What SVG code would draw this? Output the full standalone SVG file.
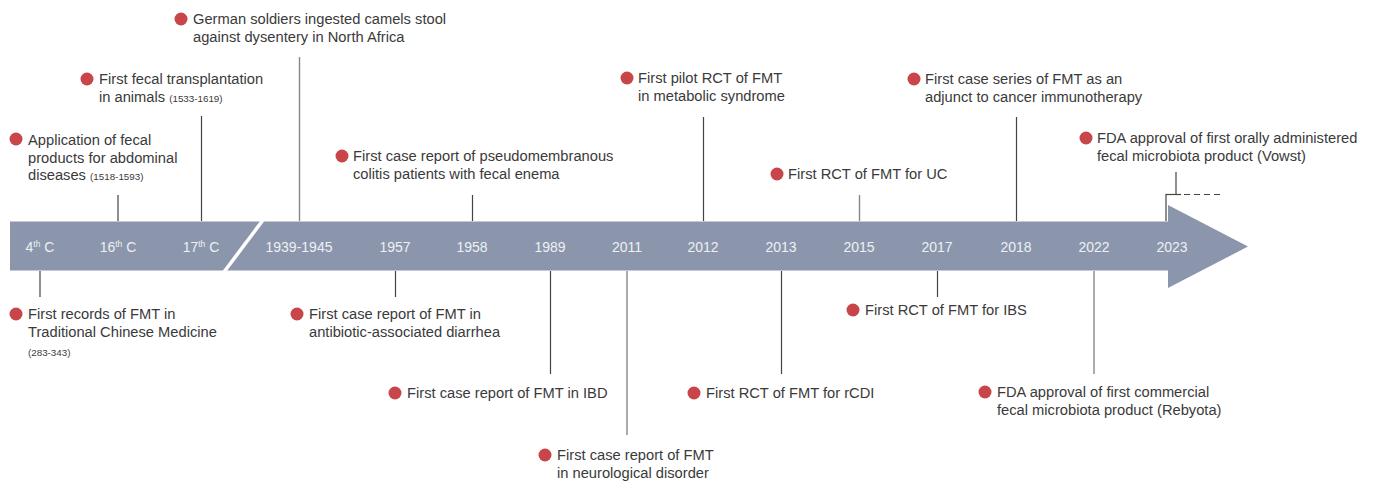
<svg xmlns="http://www.w3.org/2000/svg" width="1377" height="483" viewBox="0 0 1377 483">
<style>
.t{font-family:"Liberation Sans",Arial,sans-serif;font-size:14.7px;fill:#3a3a3a}
.s{font-size:9.8px}
.y{font-family:"Liberation Sans",Arial,sans-serif;font-size:14px;fill:#eef0f4;text-anchor:middle}
.sup{font-size:8.5px}
.dot{fill:#c8454a}
.ln{stroke:#444;stroke-width:1.2;fill:none}
.lg{stroke:#888;stroke-width:1.4;fill:none}
</style>
<rect width="1377" height="483" fill="#fff"/>
<g id="timeline">
<path d="M10,221.5 H1168 V205 L1248,246.5 L1168,288 V270.5 H10 Z" fill="#8b96ad"/>
<line x1="224" y1="272" x2="263" y2="220" stroke="#fff" stroke-width="3.5"/>
<text class="y" x="40" y="252">4<tspan class="sup" dy="-5">th</tspan><tspan dy="5"> C</tspan></text>
<text class="y" x="118" y="252">16<tspan class="sup" dy="-5">th</tspan><tspan dy="5"> C</tspan></text>
<text class="y" x="201" y="252">17<tspan class="sup" dy="-5">th</tspan><tspan dy="5"> C</tspan></text>
<text class="y" x="299" y="252">1939-1945</text>
<text class="y" x="395" y="252">1957</text>
<text class="y" x="472" y="252">1958</text>
<text class="y" x="550" y="252">1989</text>
<text class="y" x="627" y="252">2011</text>
<text class="y" x="703" y="252">2012</text>
<text class="y" x="781" y="252">2013</text>
<text class="y" x="859" y="252">2015</text>
<text class="y" x="937" y="252">2017</text>
<text class="y" x="1016" y="252">2018</text>
<text class="y" x="1094" y="252">2022</text>
<text class="y" x="1172" y="252">2023</text>
</g>
<g id="connectors">
<line class="ln" x1="118" y1="195" x2="118" y2="221"/>
<line class="ln" x1="201.5" y1="116" x2="201.5" y2="221"/>
<line class="lg" x1="299.5" y1="57" x2="299.5" y2="221"/>
<line class="ln" x1="472.5" y1="195" x2="472.5" y2="221"/>
<line class="ln" x1="703.5" y1="117" x2="703.5" y2="221"/>
<line class="lg" x1="859.5" y1="195" x2="859.5" y2="221"/>
<line class="ln" x1="1016.5" y1="117" x2="1016.5" y2="221"/>
<line class="ln" x1="1176" y1="172" x2="1176" y2="194.5"/>
<line class="ln" x1="1166" y1="194.5" x2="1166" y2="221"/>
<line class="ln" x1="1165.5" y1="194.5" x2="1181" y2="194.5"/>
<line class="ln" x1="1184" y1="194.5" x2="1222" y2="194.5" stroke-dasharray="6,4"/>
<line class="ln" x1="40" y1="271" x2="40" y2="297"/>
<line class="ln" x1="395.5" y1="271" x2="395.5" y2="297"/>
<line class="ln" x1="550.5" y1="271" x2="550.5" y2="374"/>
<line class="lg" x1="627" y1="271" x2="627" y2="435"/>
<line class="ln" x1="781.5" y1="271" x2="781.5" y2="374"/>
<line class="ln" x1="937.5" y1="271" x2="937.5" y2="297"/>
<line class="lg" x1="1094" y1="271" x2="1094" y2="374"/>
</g>
<g id="e-german">
<circle class="dot" cx="181" cy="19" r="6.5"/>
<text class="t" x="193" y="24">German soldiers ingested camels stool</text>
<text class="t" x="193" y="42">against dysentery in North Africa</text>
</g>
<g id="e-animals">
<circle class="dot" cx="87" cy="79" r="6.5"/>
<text class="t" x="99" y="84">First fecal transplantation</text>
<text class="t" x="99" y="102">in animals <tspan class="s">(1533-1619)</tspan></text>
</g>
<g id="e-application">
<circle class="dot" cx="16" cy="139" r="6.5"/>
<text class="t" x="28" y="145">Application of fecal</text>
<text class="t" x="28" y="163">products for abdominal</text>
<text class="t" x="28" y="180">diseases <tspan class="s">(1518-1593)</tspan></text>
</g>
<g id="e-pseudo">
<circle class="dot" cx="342" cy="156" r="6.5"/>
<text class="t" x="353" y="161">First case report of pseudomembranous</text>
<text class="t" x="353" y="179">colitis patients with fecal enema</text>
</g>
<g id="e-metabolic">
<circle class="dot" cx="627" cy="78" r="6.5"/>
<text class="t" x="638" y="83">First pilot RCT of FMT</text>
<text class="t" x="638" y="101">in metabolic syndrome</text>
</g>
<g id="e-uc">
<circle class="dot" cx="777" cy="174" r="6.5"/>
<text class="t" x="788" y="179">First RCT of FMT for UC</text>
</g>
<g id="e-cancer">
<circle class="dot" cx="914" cy="79" r="6.5"/>
<text class="t" x="925" y="84">First case series of FMT as an</text>
<text class="t" x="925" y="102">adjunct to cancer immunotherapy</text>
</g>
<g id="e-vowst">
<circle class="dot" cx="1086" cy="138" r="6.5"/>
<text class="t" x="1097" y="143">FDA approval of first orally administered</text>
<text class="t" x="1097" y="161">fecal microbiota product (Vowst)</text>
</g>
<g id="e-tcm">
<circle class="dot" cx="16" cy="314" r="6.5"/>
<text class="t" x="28" y="319">First records of FMT in</text>
<text class="t" x="28" y="337">Traditional Chinese Medicine</text>
<text class="t s" x="28" y="356">(283-343)</text>
</g>
<g id="e-antibiotic">
<circle class="dot" cx="297" cy="314" r="6.5"/>
<text class="t" x="309" y="319">First case report of FMT in</text>
<text class="t" x="309" y="337">antibiotic-associated diarrhea</text>
</g>
<g id="e-ibd">
<circle class="dot" cx="395" cy="393" r="6.5"/>
<text class="t" x="407" y="398">First case report of FMT in IBD</text>
</g>
<g id="e-neuro">
<circle class="dot" cx="545" cy="455" r="6.5"/>
<text class="t" x="557" y="460">First case report of FMT</text>
<text class="t" x="557" y="478">in neurological disorder</text>
</g>
<g id="e-rcdi">
<circle class="dot" cx="694" cy="393" r="6.5"/>
<text class="t" x="706" y="398">First RCT of FMT for rCDI</text>
</g>
<g id="e-ibs">
<circle class="dot" cx="853" cy="310" r="6.5"/>
<text class="t" x="865" y="315">First RCT of FMT for IBS</text>
</g>
<g id="e-rebyota">
<circle class="dot" cx="985" cy="392" r="6.5"/>
<text class="t" x="997" y="397">FDA approval of first commercial</text>
<text class="t" x="997" y="415">fecal microbiota product (Rebyota)</text>
</g>
</svg>
